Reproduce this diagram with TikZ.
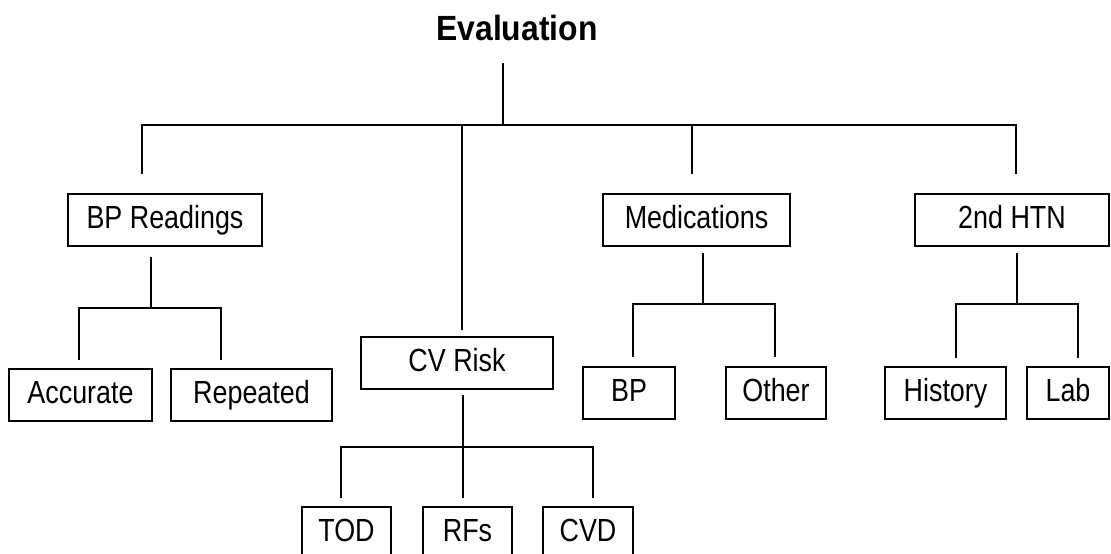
\documentclass[tikz,border=0pt]{standalone}
\usepackage{fontspec}
\setmainfont{Liberation Sans}[FakeStretch=0.84]
\newfontfamily\evalfont{Liberation Sans}[FakeStretch=0.91]
\begin{document}
\begin{tikzpicture}[x=1pt,y=-1pt,
  box/.style={draw, line width=1.8pt, inner sep=0pt, minimum height=52pt,
    text height=23pt, text depth=6pt, font=\fontsize{32}{38}\selectfont},
  conn/.style={line width=1.8pt, line cap=rect}]
\useasboundingbox (0,0) rectangle (1111,554);
\fill[white] (0,0) rectangle (1111,554);
% title
\node[anchor=base, inner sep=0pt, font=\evalfont\bfseries\fontsize{35}{42}\selectfont] (eval) at (517,40) {Evaluation};
% level 1
\node[box, minimum width=194pt] (bpr) at (165,220) {BP Readings};
\node[box, minimum width=192pt] (cvr) at (457,363) {CV Risk};
\node[box, minimum width=187pt] (med) at (696.5,220) {Medications};
\node[box, minimum width=194pt] (htn) at (1012,220) {2nd HTN};
% level 2
\node[box, minimum width=143pt] (acc) at (80.5,395) {Accurate};
\node[box, minimum width=161pt] (rep) at (251.5,395) {Repeated};
\node[box, minimum width=89pt] (tod) at (346.5,533) {TOD};
\node[box, minimum width=89pt] (rfs) at (467.5,533) {RFs};
\node[box, minimum width=90pt] (cvd) at (588,533) {CVD};
\node[box, minimum width=92pt] (bp) at (629,393) {BP};
\node[box, minimum width=100pt] (oth) at (776,393) {Other};
\node[box, minimum width=121pt] (his) at (945.5,393) {History};
\node[box, minimum width=82pt] (lab) at (1068,393) {Lab};
% junction coordinates
\coordinate (evs) at (503,64);
\coordinate (evj) at (503,125);
\coordinate (d1t) at (142,125); \coordinate (d1b) at (142,173);
\coordinate (d2t) at (462,125); \coordinate (d2b) at (462,329);
\coordinate (d3t) at (692,125); \coordinate (d3b) at (692,173);
\coordinate (d4t) at (1016,125); \coordinate (d4b) at (1016,173);
\coordinate (bps) at (151,258); \coordinate (bpj) at (151,308);
\coordinate (bpl) at (79,308); \coordinate (bplb) at (79,359);
\coordinate (bpr2) at (221,308); \coordinate (bprb) at (221,359);
\coordinate (cvs) at (463,396); \coordinate (cvj) at (463,447);
\coordinate (cvl) at (341,447); \coordinate (cvlb) at (341,497);
\coordinate (cvm) at (463,497);
\coordinate (cvr2) at (593,447); \coordinate (cvrb) at (593,497);
\coordinate (mds) at (703,254); \coordinate (mdj) at (703,304);
\coordinate (mdl) at (633,304); \coordinate (mdlb) at (633,356);
\coordinate (mdr) at (775,304); \coordinate (mdrb) at (775,356);
\coordinate (hts) at (1017,254); \coordinate (htj) at (1017,304);
\coordinate (htl) at (956,304); \coordinate (htlb) at (956,357);
\coordinate (htr) at (1078,304); \coordinate (htrb) at (1078,357);
% connectors
\draw[conn] (evs) -- (evj);
\draw[conn] (d1b) -- (d1t) -- (d4t) -- (d4b);
\draw[conn] (d2t) -- (d2b);
\draw[conn] (d3t) -- (d3b);
\draw[conn] (bps) -- (bpj);
\draw[conn] (bplb) -- (bpl) -- (bpr2) -- (bprb);
\draw[conn] (cvs) -- (cvm);
\draw[conn] (cvlb) -- (cvl) -- (cvr2) -- (cvrb);
\draw[conn] (mds) -- (mdj);
\draw[conn] (mdlb) -- (mdl) -- (mdr) -- (mdrb);
\draw[conn] (hts) -- (htj);
\draw[conn] (htlb) -- (htl) -- (htr) -- (htrb);
\end{tikzpicture}
\end{document}
